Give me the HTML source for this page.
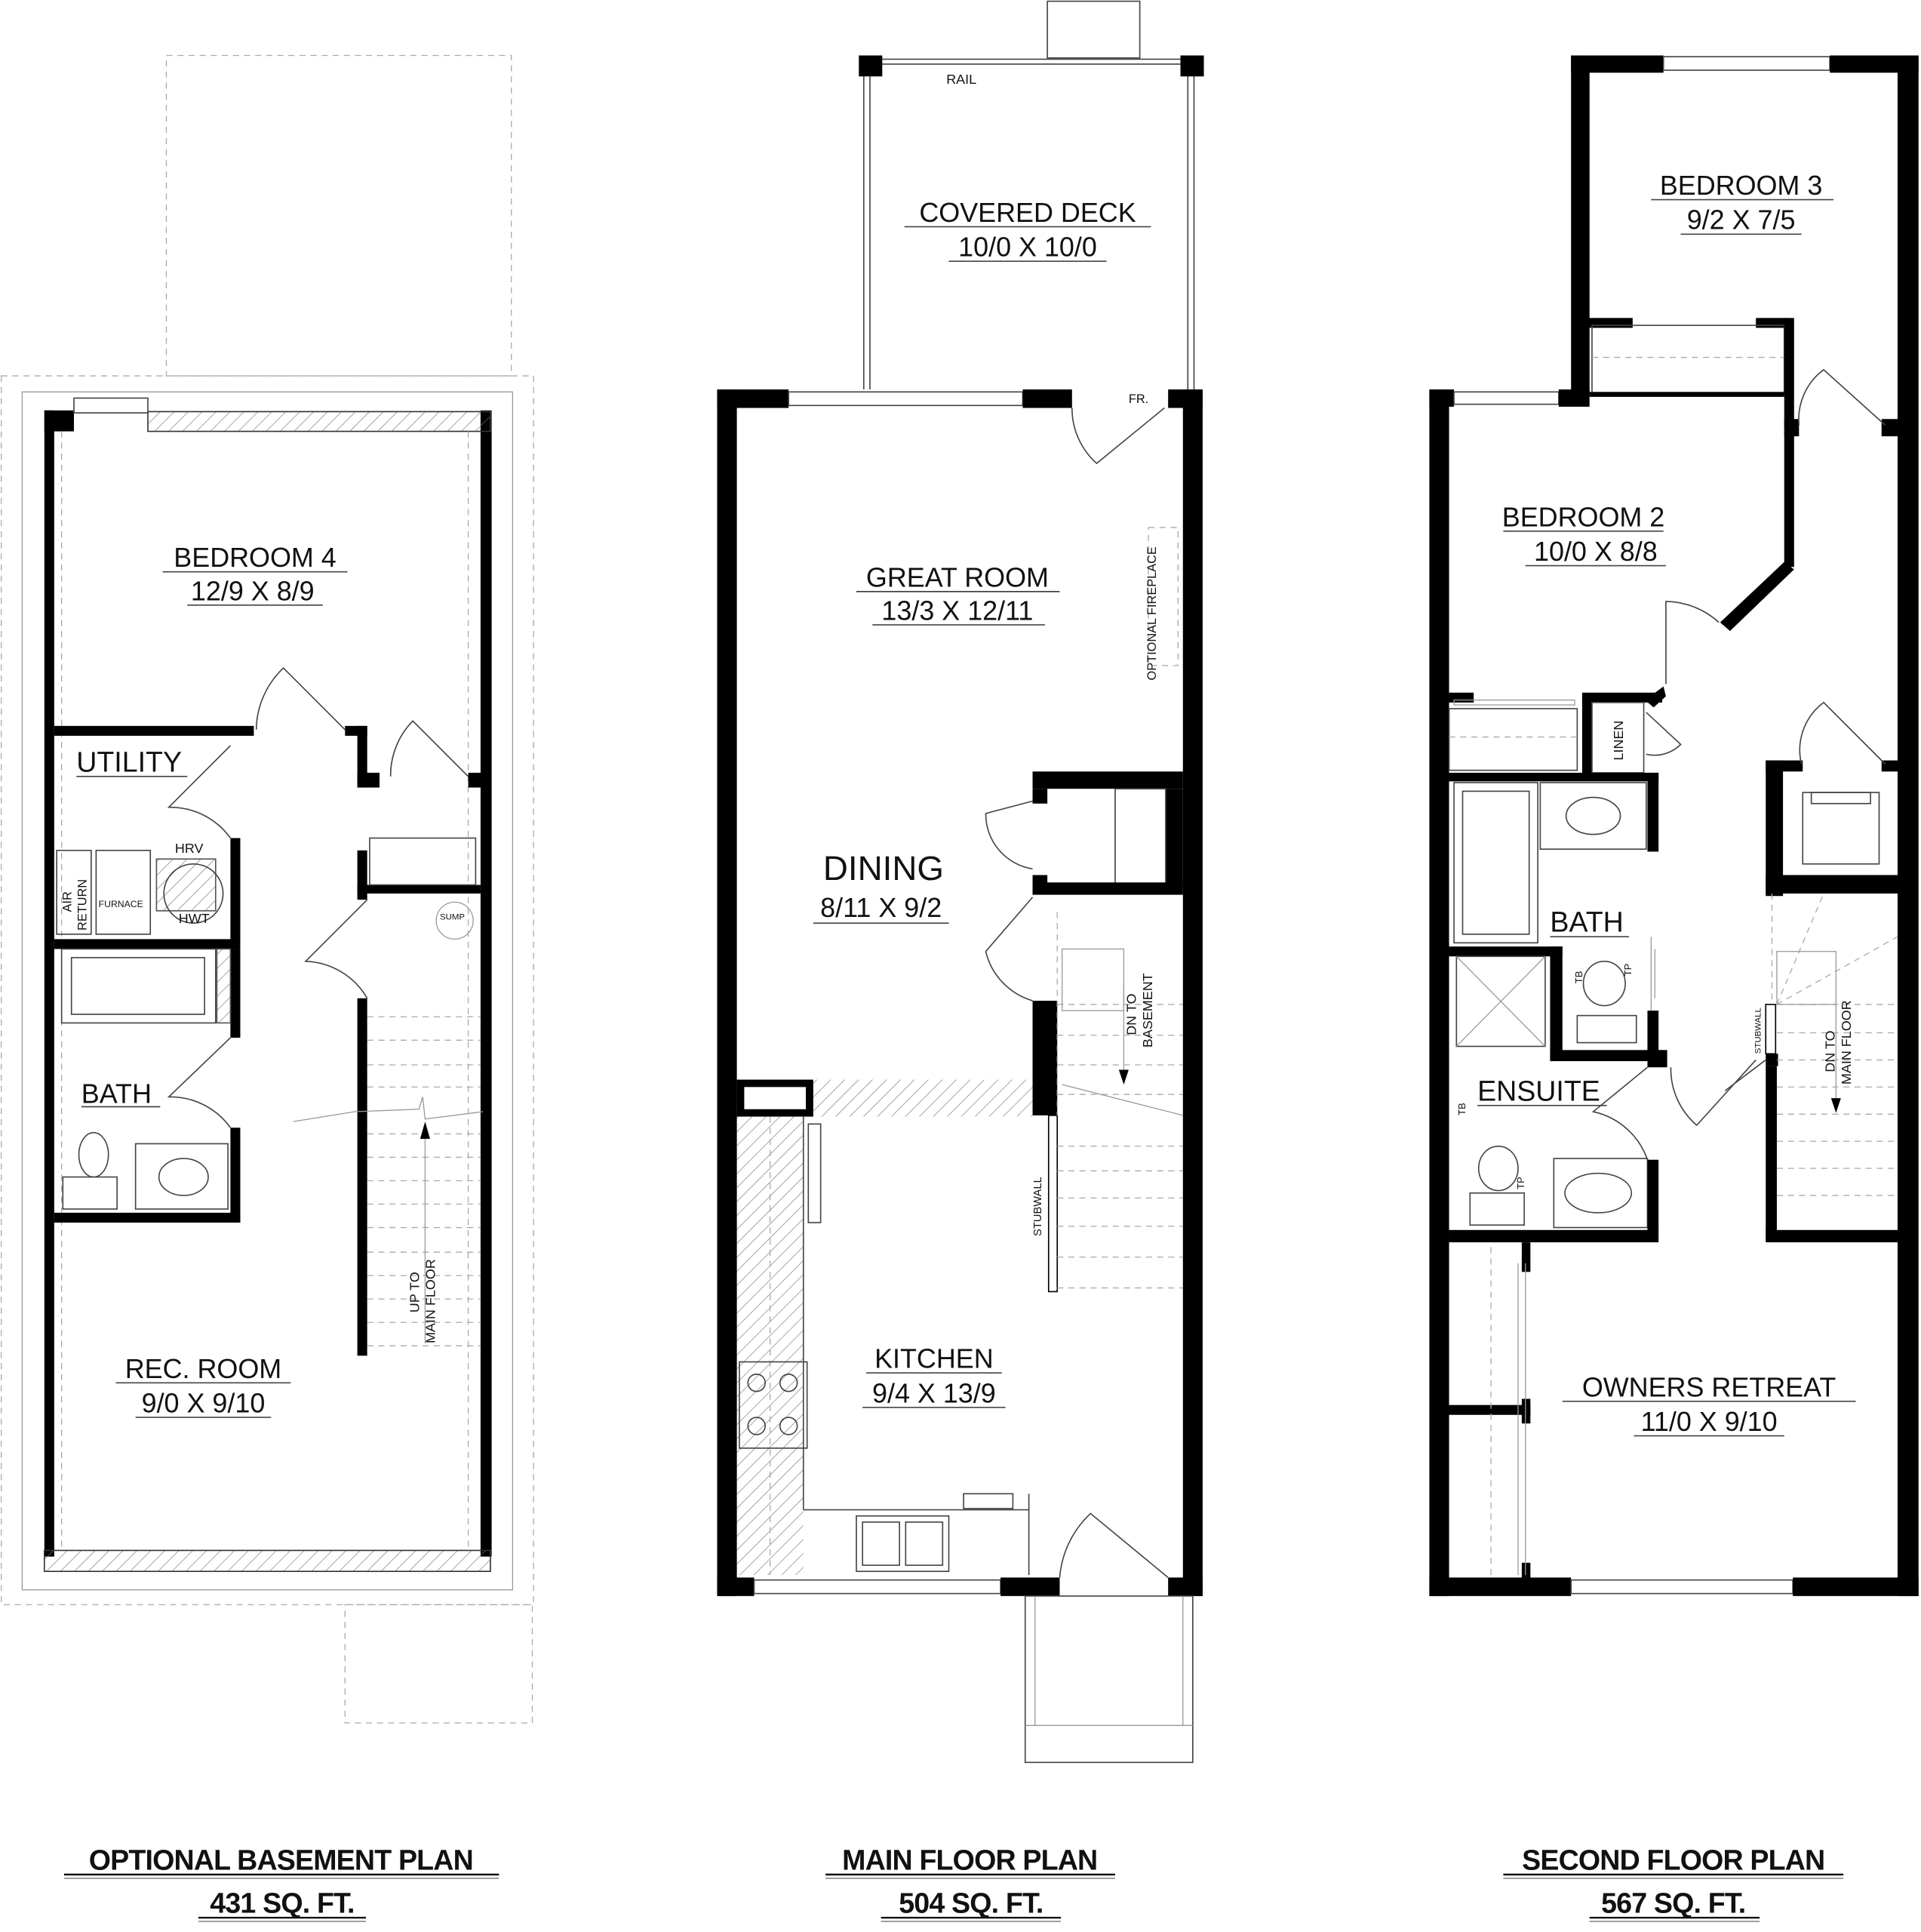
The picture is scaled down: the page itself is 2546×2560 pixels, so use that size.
<!DOCTYPE html>
<html><head><meta charset="utf-8"><style>
html,body{margin:0;padding:0;background:#fff;width:2546px;height:2560px;overflow:hidden}
svg{display:block}
text{font-family:"Liberation Sans",sans-serif;fill:#111}
.t{font-size:22px;text-anchor:middle}
.s{font-size:9px}
.h{font-family:"Liberation Sans",sans-serif;font-weight:bold;font-size:23px;text-anchor:middle;letter-spacing:-0.5px}
.ln{stroke:#444;stroke-width:1;fill:none}
.lt{stroke:#999;stroke-width:0.8;fill:none}
.dsh{stroke:#aaa;stroke-width:0.8;fill:none;stroke-dasharray:5 4}
</style></head><body>
<svg width="2546" height="2560" viewBox="0 0 1559 1567.6" preserveAspectRatio="none" xmlns="http://www.w3.org/2000/svg">
<defs>
<pattern id="hatch" width="8" height="8" patternUnits="userSpaceOnUse" patternTransform="rotate(45)">
<line x1="0" y1="0" x2="0" y2="8" stroke="#777" stroke-width="0.8"/></pattern>
</defs>
<rect width="1559" height="1568" fill="#fff"/>

<!-- ============ BASEMENT ============ -->
<rect x="1" y="305" width="432" height="997" class="dsh"/>
<rect x="135" y="45" width="280" height="260" class="dsh"/>
<rect x="280" y="1302" width="152" height="96" class="dsh"/>
<rect x="18" y="318" width="398" height="972" class="lt"/>
<rect x="36" y="333" width="8" height="930" fill="#000"/>
<rect x="390" y="333" width="9" height="930" fill="#000"/>
<rect x="120" y="334" width="278" height="16" fill="url(#hatch)" stroke="#333"/>
<rect x="36" y="333" width="24" height="17" fill="#000"/>
<rect x="60" y="323" width="60" height="12" class="ln"/>
<rect x="36" y="1258" width="362" height="17" fill="url(#hatch)" stroke="#333"/>
<line x1="50" y1="350" x2="50" y2="1258" class="dsh"/>
<line x1="380" y1="350" x2="380" y2="1258" class="dsh"/>
<!-- interior walls -->
<rect x="44" y="589" width="162" height="8" fill="#000"/>
<rect x="280" y="589" width="18" height="8" fill="#000"/>
<rect x="290" y="589" width="8" height="50" fill="#000"/>
<rect x="290" y="627" width="18" height="12" fill="#000"/>
<rect x="380" y="627" width="12" height="12" fill="#000"/>
<rect x="290" y="690" width="8" height="40" fill="#000"/>
<rect x="290" y="718" width="100" height="7" fill="#000"/>
<rect x="300" y="680" width="86" height="38" class="ln"/>
<rect x="290" y="810" width="8" height="290" fill="#000"/>
<rect x="187" y="680" width="8" height="83" fill="#000"/>
<rect x="44" y="762" width="151" height="8" fill="#000"/>
<rect x="187" y="770" width="8" height="72" fill="#000"/>
<rect x="187" y="915" width="8" height="77" fill="#000"/>
<rect x="44" y="984" width="151" height="8" fill="#000"/>
<!-- doors -->
<path d="M280 592 L230 542 A70 70 0 0 0 208 592" class="ln"/>
<path d="M380 630 L335 585 A63 63 0 0 0 317 630" class="ln"/>
<path d="M187 605 L137 655 A60 60 0 0 1 187 680" class="ln"/>
<path d="M298 730 L248 780 A60 60 0 0 1 298 810" class="ln"/>
<path d="M187 842 L137 890 A60 60 0 0 1 187 915" class="ln"/>
<!-- utility fixtures -->
<rect x="46" y="690" width="28" height="68" class="ln"/>
<text class="s" transform="translate(58,740) rotate(-90)" style="font-size:10px">AIR</text>
<text class="s" transform="translate(70,755) rotate(-90)" style="font-size:10px">RETURN</text>
<rect x="78" y="690" width="44" height="68" class="ln"/>
<text x="80" y="736" class="s" style="font-size:7.5px">FURNACE</text>
<rect x="127" y="697" width="48" height="42" fill="url(#hatch)" stroke="#555"/>
<circle cx="157" cy="725" r="24" class="ln"/>
<text x="142" y="692" style="font-size:11px">HRV</text>
<text x="145" y="749" style="font-size:11px">HWT</text>
<!-- bath -->
<rect x="50" y="770" width="125" height="60" class="ln"/>
<rect x="58" y="777" width="108" height="46" class="ln"/>
<rect x="176" y="770" width="11" height="60" fill="url(#hatch)" stroke="#555"/>
<text x="66" y="895" style="font-size:22px">BATH</text>
<line x1="66" y1="898" x2="130" y2="898" class="ln"/>
<ellipse cx="76" cy="937" rx="12" ry="18" class="ln"/>
<rect x="51" y="955" width="44" height="26" class="ln"/>
<rect x="110" y="928" width="75" height="53" class="ln"/>
<ellipse cx="149" cy="955" rx="20" ry="15" class="ln"/>
<!-- stairs -->
<g class="dsh">
<line x1="298" y1="825" x2="390" y2="825"/><line x1="298" y1="844" x2="390" y2="844"/>
<line x1="298" y1="864" x2="390" y2="864"/><line x1="298" y1="882" x2="390" y2="882"/>
<line x1="298" y1="920" x2="390" y2="920"/><line x1="298" y1="939" x2="390" y2="939"/>
<line x1="298" y1="958" x2="390" y2="958"/><line x1="298" y1="977" x2="390" y2="977"/>
<line x1="298" y1="996" x2="390" y2="996"/><line x1="298" y1="1016" x2="390" y2="1016"/>
<line x1="298" y1="1035" x2="390" y2="1035"/><line x1="298" y1="1054" x2="390" y2="1054"/>
<line x1="298" y1="1073" x2="390" y2="1073"/><line x1="298" y1="1092" x2="390" y2="1092"/>
</g>
<path d="M238 1100 L288 1092 L340 1090 L343 1080 L345 1098 L392 1092" class="lt" transform="translate(0,-190)"/>
<line x1="345" y1="918" x2="345" y2="1090" class="lt"/>
<path d="M345 910 L341 924 L349 924Z" fill="#000"/>
<circle cx="369" cy="747" r="15" class="lt"/>
<text x="357" y="746" style="font-size:7px">SUMP</text>
<text style="font-size:11px" transform="translate(340,1065) rotate(-90)">UP TO</text>
<text style="font-size:11px" transform="translate(353,1090) rotate(-90)">MAIN FLOOR</text>
<!-- labels -->
<text x="207" y="460" class="t">BEDROOM 4</text>
<text x="205" y="487" class="t">12/9 X 8/9</text>
<line x1="132" y1="464" x2="282" y2="464" class="ln"/><line x1="152" y1="491" x2="262" y2="491" class="ln"/>
<text x="62" y="626" style="font-size:23px">UTILITY</text>
<line x1="62" y1="630" x2="152" y2="630" class="ln"/>
<text x="165" y="1118" class="t">REC. ROOM</text>
<text x="165" y="1146" class="t">9/0 X 9/10</text>
<line x1="94" y1="1122" x2="236" y2="1122" class="ln"/><line x1="110" y1="1150" x2="220" y2="1150" class="ln"/>

<!-- ============ MAIN FLOOR ============ -->
<rect x="850" y="1" width="75" height="46" class="ln"/>
<line x1="705" y1="48" x2="965" y2="48" class="ln"/><line x1="705" y1="52" x2="965" y2="52" class="ln"/>
<line x1="701" y1="60" x2="701" y2="316" class="ln"/><line x1="706" y1="60" x2="706" y2="316" class="ln"/>
<line x1="964" y1="60" x2="964" y2="316" class="ln"/><line x1="969" y1="60" x2="969" y2="316" class="ln"/>
<rect x="697" y="45" width="19" height="17" fill="#000"/>
<rect x="958" y="45" width="19" height="17" fill="#000"/>
<text x="768" y="68" style="font-size:11px">RAIL</text>
<text x="834" y="180" class="t">COVERED DECK</text>
<text x="834" y="208" class="t">10/0 X 10/0</text>
<line x1="734" y1="184" x2="934" y2="184" class="ln"/><line x1="770" y1="212" x2="898" y2="212" class="ln"/>
<rect x="582" y="316" width="16" height="979" fill="#000"/>
<rect x="960" y="316" width="16" height="979" fill="#000"/>
<rect x="582" y="316" width="58" height="15" fill="#000"/>
<rect x="640" y="318" width="190" height="11" class="ln"/>
<rect x="830" y="316" width="40" height="15" fill="#000"/>
<rect x="948" y="316" width="28" height="15" fill="#000"/>
<text x="916" y="327" style="font-size:10px">FR.</text>
<path d="M870 331 A60 60 0 0 0 890 376 L945 331" class="ln"/>
<rect x="582" y="1280" width="30" height="15" fill="#000"/>
<rect x="612" y="1282" width="200" height="11" class="ln"/>
<rect x="812" y="1280" width="48" height="15" fill="#000"/>
<rect x="948" y="1280" width="28" height="15" fill="#000"/>
<path d="M948 1280 L885 1228 A80 80 0 0 0 860 1280" class="ln"/>
<rect x="832" y="1295" width="136" height="135" class="ln"/>
<line x1="840" y1="1295" x2="840" y2="1400" class="lt"/><line x1="960" y1="1295" x2="960" y2="1400" class="lt"/><line x1="832" y1="1400" x2="968" y2="1400" class="lt"/>
<rect x="932" y="428" width="24" height="112" class="dsh"/>
<text style="font-size:10px" transform="translate(938,552) rotate(-90)">OPTIONAL FIREPLACE</text>
<rect x="838" y="626" width="122" height="14" fill="#000"/>
<rect x="838" y="640" width="12" height="12" fill="#000"/>
<rect x="946" y="640" width="14" height="80" fill="#000"/>
<rect x="905" y="640" width="41" height="78" class="ln"/>
<rect x="838" y="710" width="12" height="15" fill="#000"/>
<rect x="838" y="716" width="122" height="10" fill="#000"/>
<path d="M838 650 L800 660 A45 45 0 0 0 838 705" class="ln"/>
<path d="M838 728 L800 772 A55 55 0 0 0 838 812" class="ln"/>
<rect x="838" y="812" width="20" height="93" fill="#000"/>
<rect x="851" y="905" width="7" height="143" fill="#fff" stroke="#000"/>
<text style="font-size:9px" transform="translate(845,1003) rotate(-90)">STUBWALL</text>
<g class="dsh">
<line x1="858" y1="740" x2="858" y2="905"/>
<line x1="858" y1="815" x2="960" y2="815"/><line x1="858" y1="840" x2="960" y2="840"/>
<line x1="858" y1="864" x2="960" y2="864"/><line x1="858" y1="888" x2="960" y2="888"/>
<line x1="858" y1="930" x2="960" y2="930"/><line x1="858" y1="950" x2="960" y2="950"/>
<line x1="858" y1="972" x2="960" y2="972"/><line x1="858" y1="995" x2="960" y2="995"/>
<line x1="858" y1="1020" x2="960" y2="1020"/><line x1="858" y1="1045" x2="960" y2="1045"/>
</g>
<rect x="862" y="770" width="50" height="50" class="lt"/>
<line x1="862" y1="880" x2="960" y2="905" class="lt"/>
<line x1="912" y1="800" x2="912" y2="870" class="lt"/>
<path d="M912 880 L908 868 L916 868Z" fill="#000"/>
<text style="font-size:11px" transform="translate(922,840) rotate(-90)">DN TO</text>
<text style="font-size:11px" transform="translate(935,850) rotate(-90)">BASEMENT</text>
<rect x="598" y="876" width="62" height="30" fill="#000"/>
<rect x="604" y="882" width="50" height="18" fill="#fff"/>
<rect x="660" y="876" width="178" height="30" fill="url(#hatch)"/>
<rect x="598" y="906" width="54" height="372" fill="url(#hatch)"/>
<line x1="652" y1="906" x2="652" y2="1225" class="ln"/>
<line x1="652" y1="1225" x2="835" y2="1225" class="ln"/>
<line x1="835" y1="1212" x2="835" y2="1278" class="ln"/>
<line x1="625" y1="906" x2="625" y2="1278" class="dsh"/>
<rect x="600" y="1105" width="55" height="70" class="ln" fill="#fff"/>
<circle cx="614" cy="1122" r="7" class="ln"/><circle cx="640" cy="1122" r="7" class="ln"/>
<circle cx="614" cy="1157" r="7" class="ln"/><circle cx="640" cy="1157" r="7" class="ln"/>
<rect x="656" y="912" width="10" height="80" class="ln"/>
<rect x="695" y="1230" width="75" height="45" class="ln" fill="#fff"/>
<rect x="700" y="1235" width="30" height="35" class="ln"/><rect x="735" y="1235" width="30" height="35" class="ln"/>
<rect x="782" y="1212" width="40" height="12" class="ln"/>
<text x="777" y="476" class="t">GREAT ROOM</text>
<text x="777" y="503" class="t">13/3 X 12/11</text>
<line x1="695" y1="480" x2="860" y2="480" class="ln"/><line x1="708" y1="507" x2="848" y2="507" class="ln"/>
<text x="717" y="714" class="t" style="font-size:28px">DINING</text>
<text x="715" y="744" class="t">8/11 X 9/2</text>
<line x1="660" y1="749" x2="770" y2="749" class="ln"/>
<text x="758" y="1110" class="t">KITCHEN</text>
<text x="758" y="1138" class="t">9/4 X 13/9</text>
<line x1="703" y1="1114" x2="813" y2="1114" class="ln"/><line x1="700" y1="1142" x2="816" y2="1142" class="ln"/>

<!-- ============ SECOND FLOOR ============ -->
<rect x="1275" y="45" width="15" height="275" fill="#000"/>
<rect x="1275" y="45" width="75" height="14" fill="#000"/>
<rect x="1350" y="46" width="135" height="11" class="ln"/>
<rect x="1485" y="45" width="72" height="14" fill="#000"/>
<rect x="1540" y="45" width="17" height="1250" fill="#000"/>
<rect x="1285" y="258" width="40" height="8" fill="#000"/>
<rect x="1425" y="258" width="25" height="8" fill="#000"/>
<rect x="1292" y="264" width="156" height="56" class="ln"/>
<line x1="1292" y1="290" x2="1448" y2="290" class="dsh"/>
<rect x="1448" y="258" width="8" height="90" fill="#000"/>
<rect x="1448" y="340" width="12" height="14" fill="#000"/>
<rect x="1527" y="340" width="15" height="14" fill="#000"/>
<path d="M1460 345 A50 50 0 0 1 1480 300 L1530 345" class="ln"/>
<text x="1413" y="158" class="t">BEDROOM 3</text>
<text x="1413" y="186" class="t">9/2 X 7/5</text>
<line x1="1340" y1="162" x2="1488" y2="162" class="ln"/><line x1="1364" y1="190" x2="1462" y2="190" class="ln"/>
<rect x="1160" y="316" width="16" height="979" fill="#000"/>
<rect x="1160" y="316" width="20" height="14" fill="#000"/>
<rect x="1180" y="318" width="85" height="10" class="ln"/>
<rect x="1265" y="316" width="25" height="14" fill="#000"/>
<rect x="1290" y="318" width="158" height="4" fill="#000"/>
<rect x="1448" y="350" width="8" height="110" fill="#000"/>
<path d="M1448 456 L1456 462 L1404 512 L1396 505Z" fill="#000"/>
<path d="M1395 505 A65 65 0 0 0 1352 488 L1352 555" class="ln"/>
<rect x="1176" y="562" width="20" height="8" fill="#000"/>
<rect x="1284" y="562" width="65" height="8" fill="#000"/>
<path d="M1335 568 L1350 557 L1352 565 L1342 574Z" fill="#000"/>
<rect x="1180" y="568" width="98" height="4" class="lt"/>
<rect x="1176" y="575" width="104" height="50" class="ln"/>
<line x1="1176" y1="598" x2="1280" y2="598" class="dsh"/>
<rect x="1284" y="568" width="8" height="60" fill="#000"/>
<rect x="1292" y="570" width="42" height="57" class="ln"/>
<text style="font-size:11px" transform="translate(1317,617) rotate(-90)">LINEN</text>
<path d="M1336 578 L1364 604 A30 30 0 0 1 1336 612" class="ln"/>
<text x="1285" y="427" class="t">BEDROOM 2</text>
<text x="1295" y="455" class="t">10/0 X 8/8</text>
<line x1="1220" y1="431" x2="1350" y2="431" class="ln"/><line x1="1238" y1="459" x2="1352" y2="459" class="ln"/>
<rect x="1176" y="627" width="170" height="7" fill="#000"/>
<rect x="1337" y="627" width="9" height="64" fill="#000"/>
<rect x="1180" y="635" width="68" height="130" class="ln"/>
<rect x="1187" y="642" width="54" height="116" class="ln"/>
<rect x="1250" y="635" width="86" height="54" class="ln"/>
<ellipse cx="1293" cy="662" rx="22" ry="15" class="ln"/>
<rect x="1176" y="768" width="92" height="8" fill="#000"/>
<rect x="1258" y="768" width="10" height="92" fill="#000"/>
<rect x="1258" y="852" width="92" height="9" fill="#000"/>
<rect x="1337" y="852" width="16" height="14" fill="#000"/>
<rect x="1337" y="820" width="9" height="40" fill="#000"/>
<rect x="1182" y="776" width="72" height="73" class="ln"/>
<line x1="1182" y1="776" x2="1254" y2="849" class="lt"/><line x1="1254" y1="776" x2="1182" y2="849" class="lt"/>
<ellipse cx="1302" cy="798" rx="17" ry="18" class="ln"/>
<rect x="1280" y="824" width="48" height="22" class="ln"/>
<line x1="1340" y1="760" x2="1340" y2="820" class="lt"/><line x1="1343" y1="770" x2="1343" y2="810" class="lt"/>
<text style="font-size:8px" transform="translate(1284,798) rotate(-90)">TB</text>
<text style="font-size:8px" transform="translate(1324,792) rotate(-90)">TP</text>
<text x="1258" y="756" style="font-size:23px">BATH</text>
<line x1="1258" y1="760" x2="1322" y2="760" class="ln"/>
<path d="M1356 866 A60 60 0 0 0 1377 913 L1425 860" class="ln"/>
<path d="M1337 866 L1293 902 A60 60 0 0 1 1337 941" class="ln"/>
<text x="1199" y="893" style="font-size:23px">ENSUITE</text>
<line x1="1199" y1="897" x2="1304" y2="897" class="ln"/>
<ellipse cx="1216" cy="948" rx="16" ry="18" class="ln"/>
<rect x="1193" y="968" width="44" height="26" class="ln"/>
<rect x="1261" y="940" width="76" height="56" class="ln"/>
<ellipse cx="1297" cy="968" rx="27" ry="16" class="ln"/>
<text style="font-size:8px" transform="translate(1237,965) rotate(-90)">TP</text>
<text style="font-size:8px" transform="translate(1189,905) rotate(-90)">TB</text>
<rect x="1337" y="941" width="9" height="60" fill="#000"/>
<rect x="1176" y="998" width="170" height="10" fill="#000"/>
<rect x="1235" y="1008" width="7" height="24" fill="#000"/>
<rect x="1235" y="1135" width="7" height="20" fill="#000"/>
<rect x="1235" y="1268" width="7" height="14" fill="#000"/>
<rect x="1176" y="1140" width="66" height="8" fill="#000"/>
<line x1="1210" y1="1012" x2="1210" y2="1278" class="dsh"/>
<line x1="1232" y1="1025" x2="1232" y2="1278" class="lt"/><line x1="1238" y1="1025" x2="1238" y2="1278" class="lt"/>
<rect x="1160" y="1280" width="115" height="15" fill="#000"/>
<rect x="1275" y="1282" width="180" height="11" class="ln"/>
<rect x="1455" y="1280" width="102" height="15" fill="#000"/>
<text x="1387" y="1133" class="t">OWNERS RETREAT</text>
<text x="1387" y="1161" class="t">11/0 X 9/10</text>
<line x1="1268" y1="1137" x2="1506" y2="1137" class="ln"/><line x1="1326" y1="1165" x2="1448" y2="1165" class="ln"/>
<rect x="1433" y="617" width="14" height="110" fill="#000"/>
<rect x="1433" y="617" width="30" height="9" fill="#000"/>
<rect x="1527" y="617" width="15" height="9" fill="#000"/>
<path d="M1462 620 A48 48 0 0 1 1480 570 L1530 620" class="ln"/>
<rect x="1463" y="643" width="62" height="58" class="ln"/>
<rect x="1470" y="643" width="48" height="9" class="ln"/>
<rect x="1433" y="710" width="110" height="15" fill="#000"/>
<rect x="1433" y="815" width="8" height="40" fill="#fff" stroke="#000"/>
<rect x="1433" y="855" width="10" height="10" fill="#000"/>
<rect x="1433" y="865" width="9" height="140" fill="#000"/>
<rect x="1433" y="998" width="110" height="10" fill="#000"/>
<path d="M1433 860 L1400 885" class="ln"/>
<text style="font-size:7px" transform="translate(1429,855) rotate(-90)">STUBWALL</text>
<g class="dsh">
<line x1="1442" y1="815" x2="1540" y2="815"/><line x1="1442" y1="838" x2="1540" y2="838"/>
<line x1="1442" y1="860" x2="1540" y2="860"/><line x1="1442" y1="882" x2="1540" y2="882"/>
<line x1="1442" y1="904" x2="1540" y2="904"/><line x1="1442" y1="926" x2="1540" y2="926"/>
<line x1="1442" y1="948" x2="1540" y2="948"/><line x1="1442" y1="970" x2="1540" y2="970"/>
<line x1="1442" y1="815" x2="1480" y2="725"/><line x1="1442" y1="815" x2="1540" y2="760"/>
<line x1="1438" y1="725" x2="1438" y2="815"/>
</g>
<rect x="1442" y="772" width="48" height="43" class="lt"/>
<line x1="1490" y1="810" x2="1490" y2="895" class="lt"/>
<path d="M1490 903 L1486 891 L1494 891Z" fill="#000"/>
<text style="font-size:11px" transform="translate(1489,870) rotate(-90)">DN TO</text>
<text style="font-size:11px" transform="translate(1502,880) rotate(-90)">MAIN FLOOR</text>

<!-- ============ TITLES ============ -->
<text x="228" y="1517" class="h">OPTIONAL BASEMENT PLAN</text>
<line x1="52" y1="1521" x2="405" y2="1521" stroke="#111" stroke-width="1.5"/><line x1="52" y1="1524" x2="405" y2="1524" stroke="#888" stroke-width="1"/>
<text x="229" y="1552" class="h">431 SQ. FT.</text>
<line x1="161" y1="1556" x2="297" y2="1556" stroke="#111" stroke-width="1.5"/><line x1="161" y1="1559" x2="297" y2="1559" stroke="#888" stroke-width="1"/>
<text x="787" y="1517" class="h">MAIN FLOOR PLAN</text>
<line x1="670" y1="1521" x2="905" y2="1521" stroke="#111" stroke-width="1.5"/><line x1="670" y1="1524" x2="905" y2="1524" stroke="#888" stroke-width="1"/>
<text x="788" y="1552" class="h">504 SQ. FT.</text>
<line x1="715" y1="1556" x2="861" y2="1556" stroke="#111" stroke-width="1.5"/><line x1="715" y1="1559" x2="861" y2="1559" stroke="#888" stroke-width="1"/>
<text x="1358" y="1517" class="h">SECOND FLOOR PLAN</text>
<line x1="1220" y1="1521" x2="1496" y2="1521" stroke="#111" stroke-width="1.5"/><line x1="1220" y1="1524" x2="1496" y2="1524" stroke="#888" stroke-width="1"/>
<text x="1358" y="1552" class="h">567 SQ. FT.</text>
<line x1="1290" y1="1556" x2="1428" y2="1556" stroke="#111" stroke-width="1.5"/><line x1="1290" y1="1559" x2="1428" y2="1559" stroke="#888" stroke-width="1"/>
</svg>
</body></html>
